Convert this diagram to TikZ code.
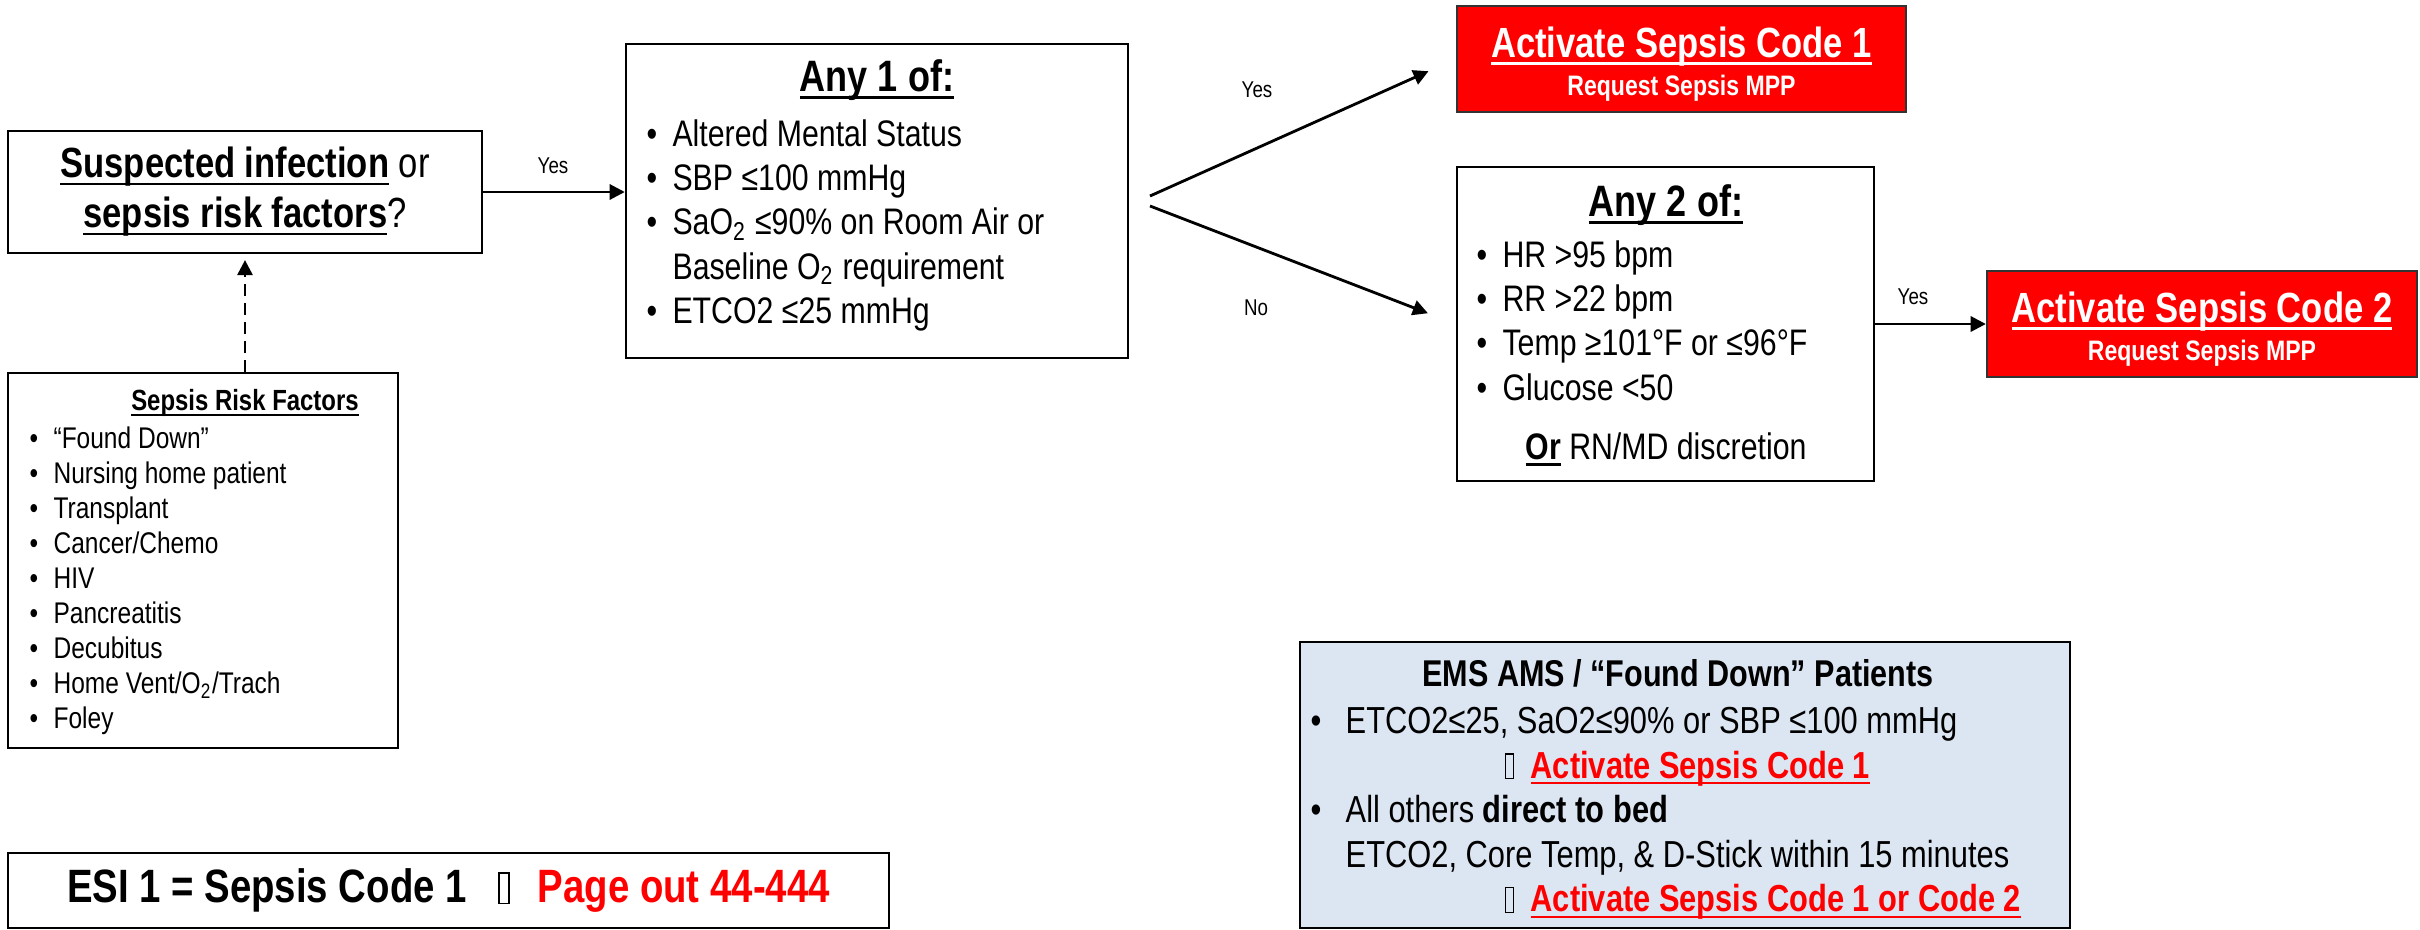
\documentclass[tikz,border=0pt]{standalone}
\usepackage{fontspec}
\setmainfont{Liberation Sans}[FakeStretch=0.82]
\usetikzlibrary{arrows.meta}
\definecolor{sepsisred}{HTML}{FF0000}
\definecolor{emsblue}{HTML}{DCE6F2}
\newcommand{\tofu}{{\fboxsep=0pt\fboxrule=0.4pt\fbox{\rule{0pt}{0.62em}\hspace{0.18em}}}}
\newcommand{\itm}[2][0.7em]{\makebox[#1][l]{•}#2}
\newcommand{\ulin}[1]{\setbox0\hbox{#1}\rlap{\rule[-0.17em]{\wd0}{0.06em}}\box0\relax}

\begin{document}
\begin{tikzpicture}[x=0.01cm,y=-0.01cm,
  box/.style={draw,line width=0.6pt,inner sep=0pt},
  codebox/.style={box,draw=black!80,fill=sepsisred,text=white,align=center,
    font=\fontsize{12}{14}\selectfont\bfseries,minimum height=1.06cm},
  headtitle/.style={inner sep=0pt,font=\fontsize{12.5}{15}\selectfont\bfseries},
  itemlist/.style={inner sep=0pt,align=left,anchor=north west,font=\fontsize{10.5}{12.6}\selectfont},
  lbl/.style={inner sep=0pt,font=\fontsize{6.5}{7.5}\selectfont},
  link/.style={-{Triangle[length=4.3pt,width=4.3pt]},line width=0.8pt}]
\useasboundingbox (0,0) rectangle (2420,930);

% Start question and risk factors
\node[box,minimum width=4.74cm,minimum height=1.22cm,align=center,
  font=\fontsize{12}{14.2}\selectfont] (susp) at (245,192)
  {\ulin{\textbf{Suspected infection}} or\\\ulin{\textbf{sepsis risk factors}}?};
\node[box,minimum width=3.9cm,minimum height=3.75cm] (risk) at (203,560.5) {};
\node[inner sep=0pt,font=\fontsize{8.3}{10}\selectfont\bfseries] (risktitle) at (245,403) {\ulin{Sepsis Risk Factors}};
\node[itemlist,font=\fontsize{8.5}{9.96}\selectfont] (risklist) at (29,426)
  {\itm[0.8em]{“Found Down”}\\\itm[0.8em]{Nursing home patient}\\\itm[0.8em]{Transplant}\\
   \itm[0.8em]{Cancer/Chemo}\\\itm[0.8em]{HIV}\\\itm[0.8em]{Pancreatitis}\\\itm[0.8em]{Decubitus}\\
   \itm[0.8em]{Home Vent/O\textsubscript{2}/Trach}\\\itm[0.8em]{Foley}};
\draw[link,dashed,dash pattern=on 3.4pt off 2pt,shorten >=1.7pt] (risk.north -| risktitle) -- (susp.south -| risktitle);

% Any 1 of
\node[box,minimum width=5.02cm,minimum height=3.14cm] (any1) at (877,201) {};
\node[headtitle] (any1title) at (877,80) {\ulin{Any 1 of:}};
\node[itemlist] (any1list) at (646,118.7)
  {\itm{Altered Mental Status}\\\itm{SBP ≤100 mmHg}\\\itm{SaO\textsubscript{2} ≤90\% on Room Air or}\\
   \hspace*{0.7em}Baseline O\textsubscript{2} requirement\\\itm{ETCO2 ≤25 mmHg}};
\draw[link] (susp.east) -- (susp.east -| any1.west);
\node[lbl] (yes1) at (553,166) {Yes};

% Code 1 and Any 2 of
\node[codebox,minimum width=4.49cm] (act1) at (1681.5,59)
  {\rule{0pt}{11.6pt}\ulin{Activate Sepsis Code 1}\\[-3.2pt]{\fontsize{8}{9}\selectfont Request Sepsis MPP}};
\node[box,minimum width=4.17cm,minimum height=3.14cm] (any2) at (1665.5,324) {};
\node[headtitle] (any2title) at (1666,205) {\ulin{Any 2 of:}};
\node[itemlist] (any2list) at (1476,239.7)
  {\itm{HR >95 bpm}\\\itm{RR >22 bpm}\\\itm{Temp ≥101°F or ≤96°F}\\\itm{Glucose <50}};
\node[inner sep=0pt,font=\fontsize{10.5}{12.6}\selectfont] (discr) at (1666,449) {\ulin{\textbf{Or}} RN/MD discretion};

\coordinate (forkup) at (1150,196);
\coordinate (forkdown) at (1150,206);
\draw[link,shorten >=8.5pt] (forkup) -- (act1.west);
\draw[link,shorten >=8.5pt] (forkdown) -- (any2.west);
\node[lbl] (yes2) at (1257,90) {Yes};
\node[lbl] (no2) at (1256,308) {No};

% Code 2
\node[codebox,minimum width=4.3cm] (act2) at (2202,324)
  {\rule{0pt}{11.6pt}\ulin{Activate Sepsis Code 2}\\[-3.2pt]{\fontsize{8}{9}\selectfont Request Sepsis MPP}};
\draw[link] (any2.east) -- (act2.west);
\node[lbl] (yes3) at (1913,297) {Yes};

% EMS patients
\node[box,fill=emsblue,minimum width=7.7cm,minimum height=2.86cm] (ems) at (1685,785) {};
\node[inner sep=0pt,font=\fontsize{10.6}{12.7}\selectfont\bfseries] (emstitle) at (1678,673) {EMS AMS / “Found Down” Patients};
\node[itemlist,font=\fontsize{10.7}{12.66}\selectfont] (emslist) at (1310,706.5)
  {\itm[0.93em]{ETCO2≤25, SaO2≤90\% or SBP ≤100 mmHg}\\
   \hspace*{55.2pt}\tofu\hspace{4.6pt}\textcolor{sepsisred}{\bfseries\ulin{Activate Sepsis Code 1}}\\
   \itm[0.93em]{All others \textbf{direct to bed}}\\
   \hspace*{0.93em}ETCO2, Core Temp, \& D-Stick within 15 minutes\\
   \hspace*{55.2pt}\tofu\hspace{4.6pt}\textcolor{sepsisred}{\bfseries\ulin{Activate Sepsis Code 1 or Code 2}}};

% ESI
\node[box,minimum width=8.81cm,minimum height=0.75cm,font=\fontsize{13.3}{16}\selectfont\bfseries] (esi) at (448.5,890.5)
  {ESI 1 = Sepsis Code 1\hspace{9pt}\tofu\hspace{8pt}\textcolor{sepsisred}{Page out 44-444}};

\end{tikzpicture}
\end{document}
